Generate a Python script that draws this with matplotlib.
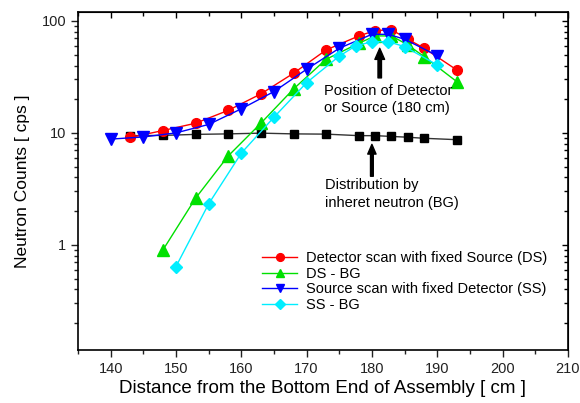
import matplotlib
matplotlib.use("Agg")
import matplotlib.pyplot as plt
from matplotlib.ticker import LogLocator, NullFormatter, MultipleLocator

plt.rcParams['font.family'] = ['Liberation Sans', 'DejaVu Sans']

# Detector scan with fixed source (DS)
ds_x = [143, 148, 153, 158, 163, 168, 173, 178, 180.5, 183, 185.5, 188, 193]
ds_y = [9.1, 10.5, 12.2, 15.9, 22.3, 34.1, 55.1, 73.5, 82.0, 83.5, 68.7, 57.1, 36.5]

# DS - BG
dsbg_x = [148, 153, 158, 163, 168, 173, 178, 180.5, 183, 185.5, 188, 193]
dsbg_y = [0.90, 2.61, 6.23, 12.2, 24.7, 45.5, 63.2, 73.5, 73.5, 61.1, 48.0, 28.7]

# Source scan with fixed detector (SS)
ss_x = [140, 145, 150, 155, 160, 165, 170, 175, 180, 182.5, 185, 190]
ss_y = [8.8, 9.2, 10.0, 11.9, 16.4, 23.4, 37.0, 57.0, 76.0, 76.0, 68.7, 49.0]

# SS - BG
ssbg_x = [150, 155, 160, 165, 170, 175, 177.5, 180, 182.5, 185, 190]
ssbg_y = [0.64, 2.32, 6.59, 13.8, 28.1, 48.5, 59.8, 65.3, 65.3, 59.0, 40.5]

# background (BG)
bg_x = [143, 148, 153, 158, 163, 168, 173, 178, 180.5, 183, 185.5, 188, 193]
bg_y = [9.45, 9.5, 9.7, 9.8, 9.95, 9.8, 9.75, 9.45, 9.45, 9.3, 9.15, 8.95, 8.7]

fig = plt.figure(figsize=(5.8, 4.03), dpi=100)
ax = fig.add_axes([0.1345, 0.1315, 0.8445, 0.8385])

ax.plot(bg_x, bg_y, color='#333333', lw=1.0, marker='s', ms=6, mfc='black', mec='black')
ax.plot(ds_x, ds_y, color='red', lw=1.0, marker='o', ms=7, mec='red',
        label='Detector scan with fixed Source (DS)')
ax.plot(dsbg_x, dsbg_y, color='#00e000', lw=1.0, marker='^', ms=8, mec='#00e000',
        label='DS - BG')
ax.plot(ss_x, ss_y, color='blue', lw=1.0, marker='v', ms=8, mec='blue',
        label='Source scan with fixed Detector (SS)')
ax.plot(ssbg_x, ssbg_y, color='#00eeff', lw=1.0, marker='D', ms=6, mec='#00eeff',
        label='SS - BG')

ax.set_yscale('log')
ax.set_xlim(135, 210)
ax.set_ylim(0.115, 120)
ax.xaxis.set_major_locator(MultipleLocator(10))
ax.xaxis.set_minor_locator(MultipleLocator(5))
ax.yaxis.set_minor_locator(LogLocator(base=10, subs=range(2, 10), numticks=20))
ax.yaxis.set_minor_formatter(NullFormatter())
ax.set_yticks([1, 10, 100])
ax.set_yticklabels(['1', '10', '100'])

ax.tick_params(which='both', direction='out', labelsize=10.5, colors='#222222')
ax.tick_params(which='major', length=5, width=1)
ax.tick_params(which='minor', length=3, width=1)
for s in ax.spines.values():
    s.set_linewidth(1.2)

# mirrored ticks pointing inward on top and right
top = ax.secondary_xaxis('top')
top.xaxis.set_major_locator(MultipleLocator(10))
top.xaxis.set_minor_locator(MultipleLocator(5))
top.tick_params(which='both', direction='in', labeltop=False, length=4, width=1)
top.tick_params(which='minor', length=3)
right = ax.secondary_yaxis('right')
right.set_yscale('log')
right.set_yticks([1, 10, 100])
right.yaxis.set_minor_locator(LogLocator(base=10, subs=range(2, 10), numticks=20))
right.tick_params(which='both', direction='in', labelright=False, length=4, width=1)
right.tick_params(which='minor', length=3)

ax.set_xlabel('Distance from the Bottom End of Assembly [ cm ]', fontsize=13.5, labelpad=3)
ax.set_ylabel('Neutron Counts [ cps ]', fontsize=12.5, labelpad=8)

ax.annotate('', xy=(181.2, 57), xytext=(181.2, 31),
            arrowprops=dict(facecolor='black', edgecolor='black', width=2.5,
                            headwidth=7, headlength=8))
ax.text(172.6, 20.0, 'Position of Detector\nor Source (180 cm)', fontsize=10.5,
        va='center', ha='left', linespacing=1.3)

ax.annotate('', xy=(180.0, 7.9), xytext=(180.0, 4.1),
            arrowprops=dict(facecolor='black', edgecolor='black', width=2.0,
                            headwidth=6, headlength=7))
ax.text(172.8, 2.85, 'Distribution by\ninheret neutron (BG)', fontsize=10.5,
        va='center', ha='left', linespacing=1.3)

ax.legend(loc='upper left', bbox_to_anchor=(0.355, 0.322), frameon=False,
          fontsize=10.5, handlelength=2.4, handletextpad=0.6, labelspacing=0.1,
          borderpad=0.2, markerscale=0.8)

fig.savefig('out.png', dpi=100)
